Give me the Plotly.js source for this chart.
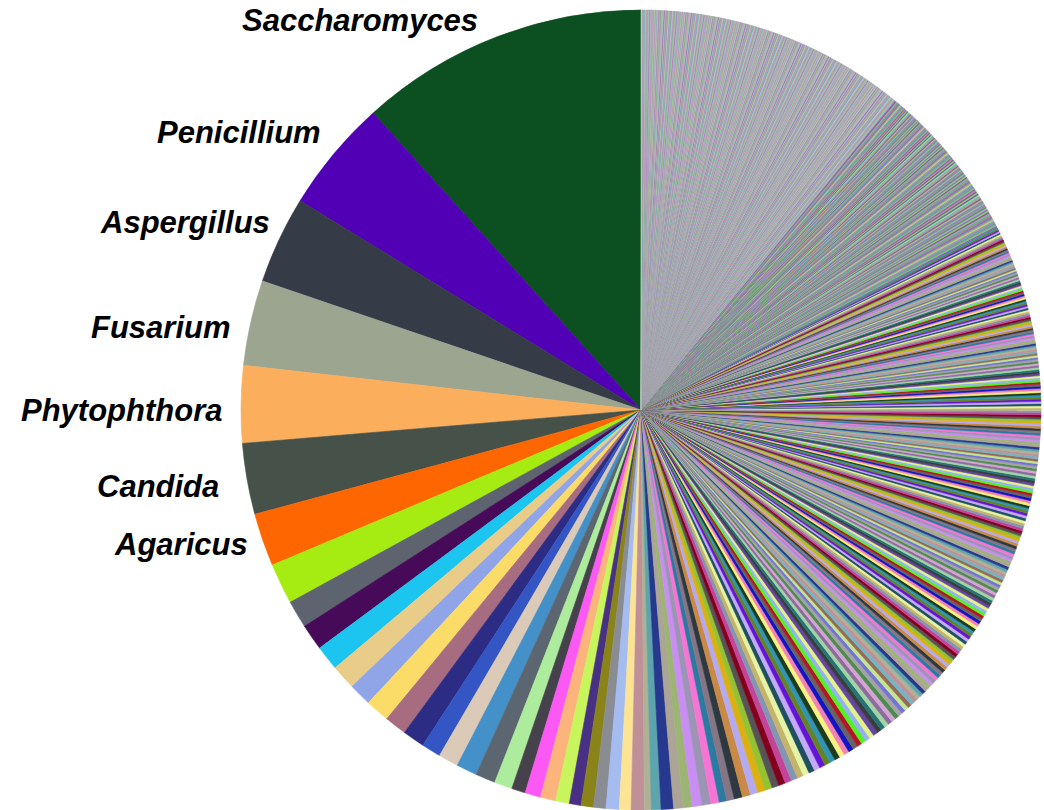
<!DOCTYPE html>
<html>
<head>
<meta charset="utf-8">
<script src="https://cdn.plot.ly/plotly-3.0.1.min.js"></script>
<style>html,body{margin:0;padding:0;background:#fff}#chart{width:1044px;height:810px}</style>
</head>
<body>
<div id="chart"></div>
<script>
// ---- data (shares, in degrees of the full circle) ----
const namedGenera = ['Saccharomyces','Penicillium','Aspergillus','Fusarium','Phytophthora','Candida','Agaricus'];
const namedShares = [42.0,16.4,12.7,12.4,11.2,10.3,7.7];
const nextShares = [5.9,4.0,3.8,3.6,3.6,3.3,3.5,3.2,3.2,2.8,2.9,3.0,2.9,2.6,2.0,2.3,2.2,2.0,1.7,1.8,1.8,1.9,1.7];
const tailSharesA = [1.9,1.0,1.4,1.8,1.4,1.3,1.4,1.3,1.2,1.1,1.1,1.2,1.2,1.1,1.1];
const tailSharesB = [1.05,1.0,1.0,.95,.95,.9,.9,.85,.85,.85,.8,.8,.8,.75,.75,.75,.72,.7,.7,.7];
const tailSharesC = [.68,.68,.66,.66,.65,.64,.63,.62,.61,.6,.6,.59,.58,.57,.56,.56,.55,.54,.53,.52,.52,.51,.5,.5,.5,.49,.49,.48,.48,.47,.47,.46,.46,.45,.45,.44,.44];
const tailSharesD = [
.44,.44,.44,.44,.44,.44,.43,.43,.43,.43,.43,.43,
.42,.42,.42,.42,.42,.42,.42,.41,.41,.41,.41,.41,.41,.41,
.40,.40,.40,.40,.40,.40,.40,.39,.39,.39,.39,.39,.39,.39,
.38,.38,.38,.38,.38,.38,.38,.38,.37,.37,.37,.37,.37,.37,.37,.37,
.36,.36,.36,.36,.36,.36,.36,.36,.35,.35,.35,.35,.35,.35,.35,.35,
.34,.34,.34,.34,.34,.34,.34,.34,.33,.33,.33,.33,.33,.33,.33,.33,
.32,.32,.32,.32,.32,.32,.32,.32];
const tailSharesE = [
.31,.31,.31,.31,.31,.31,.31,.31,
.30,.30,.30,.30,.30,.30,.30,.30,.30,
.29,.29,.29,.29,.29,.29,.29,.29,.29,
.28,.28,.28,.28,.28,.28,.28,.28,.28,
.27,.27,.27,.27,.27,.27,.27,.27,.27,.27,
.26,.26,.26,.26,.26,.26,.26,.26,.26,.26,
.25,.25,.25,.25,.25,.25,.25,.25,.25,.25,
.24,.24,.24,.24,.24,.24,.24,.24,.24,.24,.24,
.23,.23,.23,.23,.23,.23,.23,.23,.23,.23,.23,
.22,.22,.22,.22,.22,.22,.22,.22,.22,.22,.22,.22];
const tailSharesF = [
.21,.21,.21,.21,.21,.21,.21,.21,.21,.21,.21,.21,.21,.21,.21,
.20,.20,.20,.20,.20,.20,.20,.20,.20,.20,.20,.20,.20,.20,.20,.20,
.19,.19,.19,.19,.19,.19,.19,.19,.19,.19,.19,.19,.19,.19,.19,.19,.19,
.18,.18,.18,.18,.18,.18,.18,.18,.18,.18,.18,.18,.18,.18,.18,.18,.18,.18,
.17,.17,.17,.17,.17,.17,.17,.17,.17,.17,.17,.17,.17,.17,.17,.17,.17,.17,.17,.17,
.16,.16,.16,.16,.16,.16,.16,.16,.16,.16,.16,.16,.16,.16,.16,.16,.16,.16,.16,.16,.16,.16,
.15,.15,.15,.15,.15,.15,.15,.15,.15,.15,.15,.15,.15,.15,.15,.15,.15,.15,.15,.15,.15,.15,.15,.15];
const tailSharesG = [
.16,.16,.16,.16,.16,.16,.16,.16,.16,.16,.16,.16,.16,.16,.16,.16,.16,.16,.16,.16,.16,.16,.16,.16,.16,.16,.16,.16,.16,.16,
.15,.15,.15,.15,.15,.15,.15,.15,.15,.15,.15,.15,.15,.15,.15,.15,.15,.15,.15,.15,
.15,.15,.15,.15,.15,.15,.15,.15,.15,.15,.15,.15,.15,.15,.15,.15,.15,.15,.15,.15,
.15,.15,.15,.15,.15,.15,.15,.15,.15,.15,.15,.15,.15,.15,.15,.15,.15,.15,.15,.15,
.14,.14,.14,.14,.14,.14,.14,.14,.14,.14,.14,.14,.14,.14,.14,.14,.14,.14,.14,.14,
.14,.14,.14,.14,.14,.14,.14,.14,.14,.14,.14,.14,.14,.14,.14,.14,.14,.14,.14,.14,
.14,.14,.14,.14,.14,.14,.14,.14,.14,.14,.14,.14,.14,.14,.14,.14,.14,.14,.14,.14,
.14,.14,.14,.14,.14,.14,.14,.14,.14,.14,.14,.14,.14,.14,.14,.14,.14,.14,.14,.14,
.14,.14,.14,.14,.14,.14,.14,.14,.14,.14,
.13,.13,.13,.13,.13,.13,.13,.13,.13,.13,.13,.13,.13,.13,.13,.13,.13,.13,.13,.13,
.13,.13,.13,.13,.13,.13,.13,.13,.13,.13,.13,.13,.13,.13,.13,.13,.13,.13,.13,.13,
.13,.13,.13,.13,.13,.13,.13,.13,.13,.13,.13,.13,.13,.13,.13,.13,.13,.13,.13,.13,
.13,.13,.13,.13,.13,.13,.13,.13,.13,.13,.13,.13,.13,.13,.13,.13,.13,.13,.13,.13,
.13,.13,.13,.13,.13,.13,.13,.13,.13,.13,.13,.13,.13,.13,.13,.13,.13,.13,.13,.13];

// ---- styles ----
const headColors = ['#0c4f20','#5200b6','#363b48','#9ca590','#fbae5c','#46514a','#fe6602'];
const nextColors = ['#a6ec12','#5d6470','#470a58','#1cc4f0','#e8cc88','#90a4e8','#fcdc68','#a86c80','#2c2c84','#3456c4',
  '#dccab8','#4490c8','#5c6670','#acec9c','#46424c','#fc58f4','#fcb47c','#c8f45c','#483084','#8a8418','#8a8c94','#a4bcf0','#fce494'];
const paletteBright = ['#c09098','#b0b094','#5ea4ac','#26398e','#aca496','#9cb474','#c88ef2','#9c94b4','#f674d4','#2a7aa2',
  '#857585','#2e3840','#c88a44','#b4aaf2','#dcb012','#94c232','#555558','#82001e','#c4449a','#8494b4',
  '#c4b46a','#e6f2a4','#1e5062','#c4aaf8','#6414d4','#648424','#3294b4','#1c3c1e','#f8f282','#f282b4',
  '#1414c4','#646464','#b41424','#54f224','#94b2f2','#e2f284','#6444a4','#3c3c40','#247474','#a4d4a4',
  '#8c6c9c','#d4a4d4','#4c8c4c','#a4a4a4','#7474d4','#c4e494','#946c54','#74b4c4'];
const paletteTransition = ['#9a5aa8','#70c880','#8c8c98','#5aa8a0','#c080b8','#98dc88','#a89c70','#7070d0','#b87890','#58b888',
  '#a0a0ac','#80589c','#98c860','#6888a0','#c49cd4','#4c9c5c','#949494','#ac70c4','#68d0a8','#a08068',
  '#8484dc','#b8b880','#6c6c7c','#c490a0','#78b0c8','#88e878','#7458a8','#a8c090','#587868','#cc80b8'];
const paletteMid = ['#a878b8','#b4b4bc','#88c890','#9c9ca8','#c89ac0','#c0c0c8','#6cb0ac','#a8a8b0','#b88cc8','#a4d8a0',
  '#9a9aa0','#c0a8a0','#8c8cc8','#bcbcc4','#a070a8','#98c8b8','#aeaeb6','#d0a0c0','#7cb084','#b0b0b8',
  '#9c84b8','#c4c4a8','#8aa8b8','#b8b8c0','#c488b0','#a0d090','#a4a4ac','#b4a0d0','#8cb8a8','#c0b0b8'];

const brightTail = [].concat(tailSharesA, tailSharesB, tailSharesC, tailSharesD, tailSharesE);

const values = [].concat(namedShares, nextShares, brightTail, tailSharesF, tailSharesG);
const labels = values.map((v, i) => i < namedGenera.length ? namedGenera[i] : 'genus ' + (i + 1));
const colors = [].concat(
  headColors, nextColors,
  brightTail.map((v, i) => paletteBright[i % paletteBright.length]),
  tailSharesF.map((v, i) => paletteTransition[i % paletteTransition.length]),
  tailSharesG.map((v, i) => paletteMid[i % paletteMid.length])
);
const total = values.reduce((a, b) => a + b, 0);

// label anchor points (pixels: right edge x, vertical centre y)
const labelPos = [[480,21],[323,132],[272,222],[233,327],[225,410],[221,487],[250,544]];
const W = 1044, H = 810;
const annotations = namedGenera.map((g, i) => ({
  text: g, xref: 'paper', yref: 'paper',
  x: labelPos[i][0] / W, y: 1 - labelPos[i][1] / H,
  xanchor: 'right', yanchor: 'middle', showarrow: false,
  font: {family: 'Liberation Sans, Arial, sans-serif', size: 31, color: '#000', weight: 'bold', style: 'italic'}
}));

Plotly.newPlot('chart', [{
  type: 'pie', values: values, labels: labels, sort: false,
  direction: 'counterclockwise',
  // Plotly ends the first counterclockwise slice at the rotation angle; shift so it starts at 12 o'clock
  rotation: -values[0] / total * 360,
  textinfo: 'none', hoverinfo: 'label+percent',
  marker: {colors: colors, line: {color: colors, width: 0.6}},
  domain: {x: [241 / W, 1041 / W], y: [0, 800 / H]}
}], {
  width: W, height: H, margin: {l: 0, r: 0, t: 0, b: 0},
  showlegend: false, paper_bgcolor: '#fff', annotations: annotations
}, {staticPlot: true, displayModeBar: false});
</script>
</body>
</html>
